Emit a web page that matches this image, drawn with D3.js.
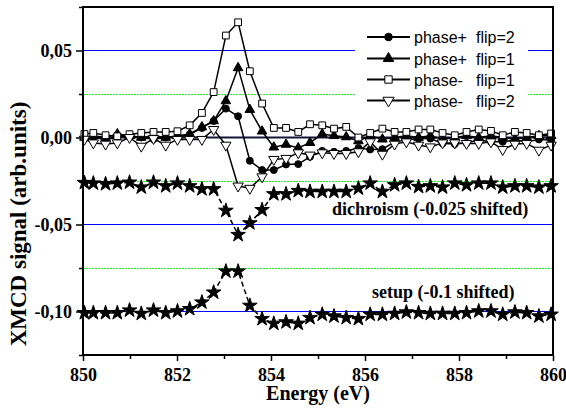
<!DOCTYPE html>
<html>
<head>
<meta charset="utf-8">
<title>XMCD</title>
<style>
  body { margin: 0; background: #fff; }
  .axis line { stroke: #000; stroke-width: 1.5; }
  .axis path { display: none; }
  .legend text { font-family: "Liberation Sans", Arial, sans-serif; font-size: 16px; fill: #000; }
  .title { font-family: "Liberation Serif", serif; font-weight: bold; fill: #000; }
</style>
</head>
<body>
<script src="https://d3js.org/d3.v7.min.js"></script>
<script>
var width = 566, height = 408;
var margin = {left: 83, right: 13, top: 7, bottom: 53};

// energies (eV)
var energy = [850.03, 850.22, 850.48, 850.73, 850.99, 851.24, 851.50, 851.76, 852.01, 852.27,
  852.53, 852.78, 853.04, 853.30, 853.55, 853.81, 854.06, 854.32, 854.58, 854.83,
  855.09, 855.34, 855.60, 855.86, 856.11, 856.37, 856.63, 856.88, 857.14, 857.39,
  857.65, 857.91, 858.16, 858.42, 858.68, 858.93, 859.19, 859.44, 859.70, 859.96];

var phasePlusFlip2 = [0.000, 0.000, -0.001, 0.000, 0.001, 0.000, -0.001, 0.000, 0.000, 0.0017,
  0.0055, 0.0095, 0.0166, 0.0122, -0.0134, -0.0187, -0.0187, -0.0155, -0.0153, -0.0111,
  -0.0077, -0.0082, -0.0077, -0.0060, -0.0069, -0.0067, -0.0025, -0.0015, -0.0006, -0.0006,
  -0.0034, -0.0038, -0.0031, -0.0015, -0.0025, -0.0025, -0.0015, -0.0025, -0.0011, -0.0015];

var phasePlusFlip1 = [0.000, 0.001, 0.000, 0.002, 0.001, 0.000, 0.001, 0.000, 0.001, 0.002,
  0.006, 0.0095, 0.021, 0.040, 0.016, 0.0036, -0.0056, -0.004, -0.006, -0.003,
  0.002, 0.001, 0.0003, -0.002, 0.001, -0.001, 0.000, 0.001, 0.000, 0.001,
  -0.001, 0.000, 0.001, 0.000, 0.001, 0.000, -0.001, 0.000, 0.001, 0.001];

var phaseMinusFlip1 = [0.002, 0.0026, 0.0013, 0.0007, 0.0019, 0.0026, 0.0032, 0.0032, 0.0036, 0.0070,
  0.0141, 0.0261, 0.0586, 0.0662, 0.0381, 0.0195, 0.0055, 0.0055, 0.0032, 0.0076,
  0.0070, 0.0051, 0.0061, 0.0000, 0.0026, 0.0051, 0.0032, 0.0032, 0.0046, 0.0046,
  0.0026, 0.0013, 0.0032, 0.0046, 0.0038, 0.0013, 0.0032, 0.0026, 0.0013, 0.0023];

var phaseMinusFlip2 = [-0.001, -0.0031, -0.0038, -0.0031, 0.0000, -0.0050, -0.0006, -0.0044, -0.0011, -0.0011,
  -0.0011, 0.0046, -0.0044, -0.0279, -0.0292, -0.0226, -0.0126, -0.0120, -0.0088, -0.0101,
  -0.0088, -0.0092, -0.0092, -0.0082, -0.0025, -0.0096, -0.0038, -0.0025, -0.0044, -0.0054,
  -0.0031, -0.0031, -0.0034, -0.0034, -0.0025, -0.0069, -0.0038, -0.0034, -0.0073, -0.0044];

// dichroism, shifted by -0.025
var dichroism = [-0.0260, -0.0263, -0.0267, -0.0263, -0.0258, -0.0286, -0.0258, -0.0279, -0.0263, -0.0279,
  -0.0296, -0.0296, -0.0420, -0.0559, -0.0492, -0.0416, -0.0325, -0.0325, -0.0306, -0.0311,
  -0.0311, -0.0311, -0.0311, -0.0292, -0.0263, -0.0311, -0.0273, -0.0263, -0.0283, -0.0279,
  -0.0286, -0.0263, -0.0273, -0.0263, -0.0263, -0.0286, -0.0279, -0.0279, -0.0286, -0.0279];

// setup, shifted by -0.1
var setup = [-0.1008, -0.1008, -0.1008, -0.1008, -0.0993, -0.1012, -0.0993, -0.1008, -0.0998, -0.0985,
  -0.0947, -0.0890, -0.0769, -0.0769, -0.0966, -0.1042, -0.1069, -0.1061, -0.1069, -0.1036,
  -0.1017, -0.1027, -0.1036, -0.1042, -0.1017, -0.1017, -0.1012, -0.1004, -0.1008, -0.1012,
  -0.1012, -0.1012, -0.1008, -0.0998, -0.0998, -0.1017, -0.1004, -0.1008, -0.1027, -0.1017];

var xTicks = [850, 852, 854, 856, 858, 860];
var xMinorTicks = [851, 853, 855, 857, 859];
var yTicks = [0.05, 0, -0.05, -0.10];
var yMinorTicks = [0.075, 0.025, -0.025, -0.075, -0.125];
var blueLines = [0.05, -0.05, -0.10];
var greenLines = [0.025, -0.025, -0.075];
var legendPhase = ['phase+', 'phase+', 'phase-', 'phase-'];
var legendFlip = ['flip=2', 'flip=1', 'flip=1', 'flip=2'];

var svg = d3.select('body').append('svg')
  .attr('width', width)
  .attr('height', height);

var x = d3.scaleLinear().domain([850, 860]).range([margin.left, width - margin.right]);
var y = d3.scaleLinear().domain([-0.125, 0.075]).range([height - margin.bottom, margin.top]);

var locale = d3.formatLocale({decimal: ',', thousands: '.', grouping: [3], currency: ['', ''], minus: '-'});
var fmt = locale.format('.2f');

// reference lines
svg.selectAll('.blue').data(blueLines).enter().append('line')
  .attr('x1', x(850)).attr('x2', x(860))
  .attr('y1', function(d) { return y(d); }).attr('y2', function(d) { return y(d); })
  .attr('stroke', '#0000ff').attr('stroke-width', 1);

svg.selectAll('.green').data(greenLines).enter().append('line')
  .attr('x1', x(850)).attr('x2', x(860))
  .attr('y1', function(d) { return Math.round(y(d)) + 0.5; }).attr('y2', function(d) { return Math.round(y(d)) + 0.5; })
  .attr('stroke', '#22ee22').attr('stroke-width', 1).attr('stroke-dasharray', '2,1');

svg.append('line')
  .attr('x1', x(850)).attr('x2', x(860))
  .attr('y1', y(0)).attr('y2', y(0))
  .attr('stroke', '#14143a').attr('stroke-width', 2);

// legend backdrop
svg.append('rect')
  .attr('x', 355).attr('y', 24).attr('width', 173).attr('height', 88)
  .attr('fill', '#fff');

var series = [
  {values: phasePlusFlip2, symbol: d3.symbolCircle, size: 38, fill: '#000', rotate: 0, dash: null},
  {values: phasePlusFlip1, symbol: d3.symbolTriangle, size: 40, fill: '#000', rotate: 0, dash: null},
  {values: phaseMinusFlip1, symbol: d3.symbolSquare, size: 46, fill: '#fff', rotate: 0, dash: null},
  {values: phaseMinusFlip2, symbol: d3.symbolTriangle, size: 46, fill: '#fff', rotate: 180, dash: null},
  {values: dichroism, symbol: d3.symbolStar, size: 66, fill: '#000', rotate: 0, dash: '5,3'},
  {values: setup, symbol: d3.symbolStar, size: 66, fill: '#000', rotate: 0, dash: '5,3'}
];

var line = d3.line()
  .x(function(d) { return x(d[0]); })
  .y(function(d) { return y(d[1]); });

series.forEach(function(s) {
  var pts = energy.map(function(e, i) { return [e, s.values[i]]; });
  svg.append('path')
    .datum(pts)
    .attr('d', line)
    .attr('fill', 'none')
    .attr('stroke', '#000')
    .attr('stroke-width', 1.5)
    .attr('stroke-dasharray', s.dash);
  svg.append('g').selectAll('path').data(pts).enter().append('path')
    .attr('d', d3.symbol().type(s.symbol).size(s.size))
    .attr('transform', function(d) {
      return 'translate(' + x(d[0]) + ',' + y(d[1]) + ') rotate(' + s.rotate + ')';
    })
    .attr('fill', s.fill)
    .attr('stroke', '#000')
    .attr('stroke-width', 1);
});

// legend
var legend = svg.append('g').attr('class', 'legend');
var legendY = [37, 58.5, 79.5, 100.5];
legendPhase.forEach(function(p, i) {
  var s = series[i];
  var g = legend.append('g').attr('transform', 'translate(0,' + legendY[i] + ')');
  g.append('line').attr('x1', 367).attr('x2', 410).attr('y1', 0).attr('y2', 0)
    .attr('stroke', '#000').attr('stroke-width', 1.8);
  g.append('path')
    .attr('d', d3.symbol().type(s.symbol).size(s.size + 8))
    .attr('transform', 'translate(388.5,0) rotate(' + s.rotate + ')')
    .attr('fill', s.fill).attr('stroke', '#000').attr('stroke-width', 1);
  g.append('text').attr('x', 414).attr('y', 6).text(p);
  g.append('text').attr('x', 476).attr('y', 6).text(legendFlip[i]);
});

// frame
svg.append('rect')
  .attr('x', x(850)).attr('y', y(0.075))
  .attr('width', x(860) - x(850)).attr('height', y(-0.125) - y(0.075))
  .attr('fill', 'none').attr('stroke', '#000').attr('stroke-width', 2);

// axes
var xAxis = d3.axisBottom(x).tickValues(xTicks).tickSize(6).tickSizeOuter(0).tickPadding(7)
  .tickFormat(d3.format('d'));
var xMinor = d3.axisBottom(x).tickValues(xMinorTicks).tickSize(4).tickSizeOuter(0).tickFormat('');
var yAxis = d3.axisLeft(y).tickValues(yTicks).tickSize(7).tickSizeOuter(0).tickPadding(4)
  .tickFormat(fmt);
var yMinor = d3.axisLeft(y).tickValues(yMinorTicks).tickSize(4).tickSizeOuter(0).tickFormat('');

function styleAxis(g) {
  g.attr('font-family', null).attr('font-size', null);
  g.selectAll('text')
    .attr('class', 'title')
    .attr('fill', null)
    .style('font-size', '18px');
}

svg.append('g').attr('class', 'axis').attr('transform', 'translate(0,' + y(-0.125) + ')').call(xAxis).call(styleAxis);
svg.append('g').attr('class', 'axis').attr('transform', 'translate(0,' + y(-0.125) + ')').call(xMinor);
svg.append('g').attr('class', 'axis').attr('transform', 'translate(' + x(850) + ',0)').call(yAxis).call(styleAxis);
svg.append('g').attr('class', 'axis').attr('transform', 'translate(' + x(850) + ',0)').call(yMinor);

// titles and notes
svg.append('text').attr('class', 'title')
  .attr('x', (x(850) + x(860)) / 2).attr('y', 400)
  .attr('text-anchor', 'middle').style('font-size', '20px')
  .text('Energy (eV)');

svg.append('text').attr('class', 'title')
  .attr('transform', 'translate(26,224) rotate(-90)')
  .attr('text-anchor', 'middle').style('font-size', '23px')
  .text('XMCD signal (arb.units)');

svg.append('text').attr('class', 'title')
  .attr('x', 332).attr('y', 215).style('font-size', '18px')
  .text('dichroism (-0.025 shifted)');

svg.append('text').attr('class', 'title')
  .attr('x', 372).attr('y', 298).style('font-size', '18px')
  .text('setup (-0.1 shifted)');
</script>
</body>
</html>
